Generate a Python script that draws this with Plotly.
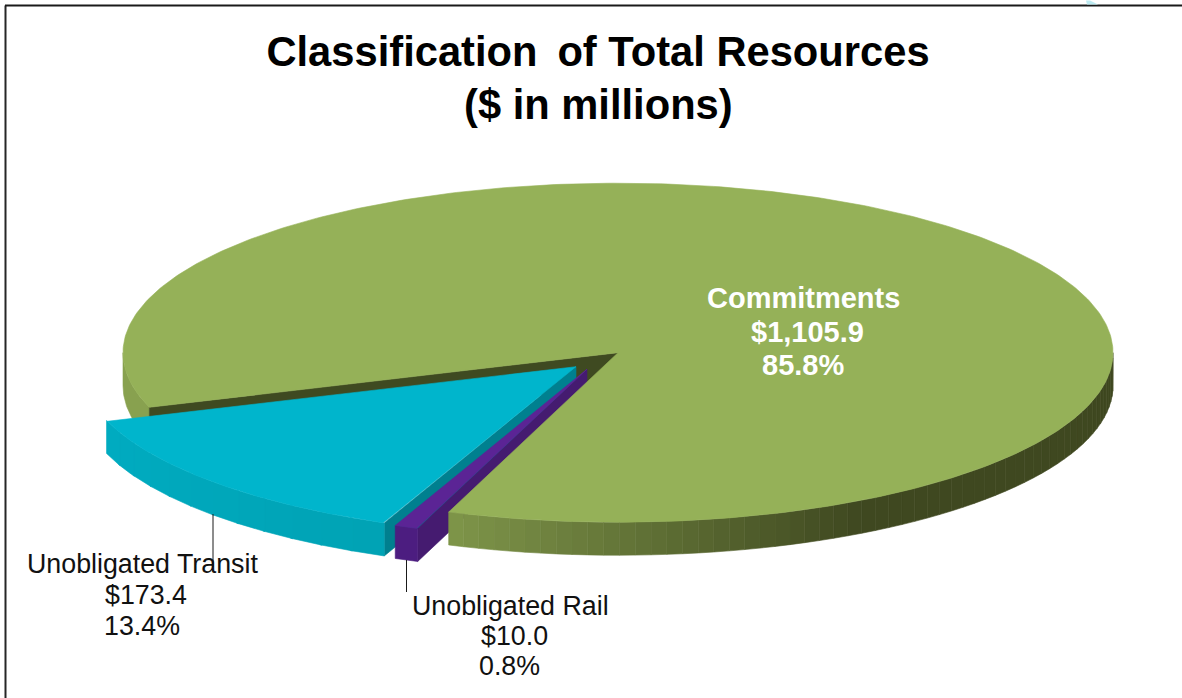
import numpy as np
import plotly.graph_objects as go

categories = ["Commitments", "Unobligated Transit", "Unobligated Rail"]
amounts = [1105.9, 173.4, 10.0]
percents = [85.8, 13.4, 0.8]
top_colors = ["#95B158", "#00B5CC", "#5B2495"]
rim_colors = ["#88A14F", "#00A8BC", "#4C1D80"]
cut_colors = ["#3F4A21", "#00808F", "#451B70"]

# projection of the tilted disc onto the page
CX, CY, A, B, DEPTH = 618.0, 352.7, 495.0, 169.5, 33.0
START = 200.0                        # clock angle where the rail slice begins
PULL = {1: (-42.0, 14.0), 2: (-31.0, 16.5)}

total = sum(amounts)
sweep = [a / total * 360 for a in amounts]
rail_a, rail_b = START, START + sweep[2]
transit_a, transit_b = rail_b, rail_b + sweep[1]
green_a, green_b = transit_b, START + 360

fig = go.Figure()


def arc(a, b, cx, cy, n=40):
    t = np.radians(np.linspace(a, b, n))
    return cx + A * np.sin(t), cy - B * np.cos(t)


def poly(x, y, color):
    fig.add_trace(go.Scatter(x=list(x), y=list(y), mode="lines", fill="toself", fillcolor=color,
                             line=dict(color=color, width=0.6), hoverinfo="skip", showlegend=False))


def rim(a, b, cx, cy, color):
    x, y = arc(a, b, cx, cy)
    poly(np.r_[x, x[::-1], x[0]], np.r_[y, y[::-1] + DEPTH, y[0]], color)


def cut(angle, cx, cy, color):
    x, y = arc(angle, angle, cx, cy, 1)
    poly([cx, x[0], x[0], cx, cx], [cy, y[0], y[0] + DEPTH, cy + DEPTH, cy], color)


def wedge(a, b, cx, cy, color):
    x, y = arc(a, b, cx, cy, 400)
    poly(np.r_[cx, x, cx], np.r_[cy, y, cy], color)


def mix(c1, c2, f):
    p = [int(c1[i:i + 2], 16) for i in (1, 3, 5)]
    q = [int(c2[i:i + 2], 16) for i in (1, 3, 5)]
    return "rgb(%d,%d,%d)" % tuple(round(u + (v - u) * f) for u, v in zip(p, q))


# green parts that sit behind the pulled slices
rim(270, green_a, CX, CY, rim_colors[0])
cut(green_a, CX, CY, cut_colors[0])

# transit slice
tx, ty = CX + PULL[1][0], CY + PULL[1][1]
cut(transit_a, tx, ty, cut_colors[1])
edges = np.linspace(transit_a, transit_b, 13)
for i in range(12):
    rim(edges[i], edges[i + 1] + 0.3, tx, ty, mix("#00A3B5", "#00ABC0", i / 11))
wedge(transit_a, transit_b, tx, ty, top_colors[1])

# rail slice
rx, ry = CX + PULL[2][0], CY + PULL[2][1]
cut(rail_a, rx, ry, cut_colors[2])
rim(rail_a, rail_b, rx, ry, rim_colors[2])
wedge(rail_a, rail_b, rx, ry, top_colors[2])

# commitments: front wall shaded light at the cut to dark on the right, then the top
edges = np.linspace(90, START, 61)
for i in range(60):
    mid_x = CX + A * np.sin(np.radians((edges[i] + edges[i + 1]) / 2))
    f = float(np.clip((mid_x - 449) / (860 - 449), 0, 1))
    rim(edges[i], edges[i + 1], CX, CY, mix("#7E9549", "#3F4820", f))
wedge(green_a, green_b, CX, CY, top_colors[0])

# leader lines
fig.add_trace(go.Scatter(x=[213, 213], y=[514, 567], mode="lines", line=dict(color="#1A1A1A", width=1),
                         hoverinfo="skip", showlegend=False))
fig.add_trace(go.Scatter(x=[406.5, 406.5], y=[560, 592], mode="lines", line=dict(color="#1A1A1A", width=1),
                         hoverinfo="skip", showlegend=False))

FONT = "Liberation Sans, Arial, sans-serif"


def line_note(x, y, text, size, color):
    return dict(x=x, y=y, text=text, font=dict(size=size, color=color, family=FONT), xref="x", yref="y",
                showarrow=False, xanchor="center", yanchor="middle", align="center")


def label_lines(i):
    return [categories[i], f"${amounts[i]:,.1f}", f"{percents[i]}%"]


annos = [line_note(598, 104, "<b>($ in millions)</b>", 41.7, "#000000")]
for text, x, y in zip(label_lines(0), [803.5, 807.5, 802.5], [298, 332, 365]):
    annos.append(line_note(x, y, f"<b>{text}</b>", 29, "#FFFFFF"))
for text, x, y in zip(label_lines(1), [142, 146, 142], [564, 595, 626]):
    annos.append(line_note(x, y, text, 26.8, "#111111"))
for text, x, y in zip(label_lines(2), [510, 514, 509], [606, 636, 666]):
    annos.append(line_note(x, y, text, 26.8, "#111111"))

fig.update_layout(
    width=1182, height=698, margin=dict(l=0, r=0, t=0, b=0),
    paper_bgcolor="#FFFFFF", plot_bgcolor="#FFFFFF", showlegend=False,
    title=dict(text="<b>Classification \u2009of Total Resources</b>", x=598 / 1182, xanchor="center",
               y=1 - 51 / 698, yanchor="middle", font=dict(size=41.7, color="#000000", family=FONT)),
    xaxis=dict(range=[0, 1182], visible=False, fixedrange=True),
    yaxis=dict(range=[698, 0], visible=False, fixedrange=True),
    annotations=annos,
    shapes=[
        dict(type="line", xref="x", yref="y", x0=5.5, x1=5.5, y0=5.5, y1=698, line=dict(color="#262626", width=2)),
        dict(type="line", xref="x", yref="y", x0=5, x1=1182, y0=5.5, y1=5.5, line=dict(color="#1A1A1A", width=2)),
        dict(type="path", xref="x", yref="y", path="M1086,0.5 L1090,0.5 L1098,4.5 L1087,4.5 Z",
             fillcolor="#BDEBF2", line=dict(width=0)),
    ],
)
fig.write_html("out.html", config=dict(displayModeBar=False),
               post_script="document.body.style.margin='0';")
